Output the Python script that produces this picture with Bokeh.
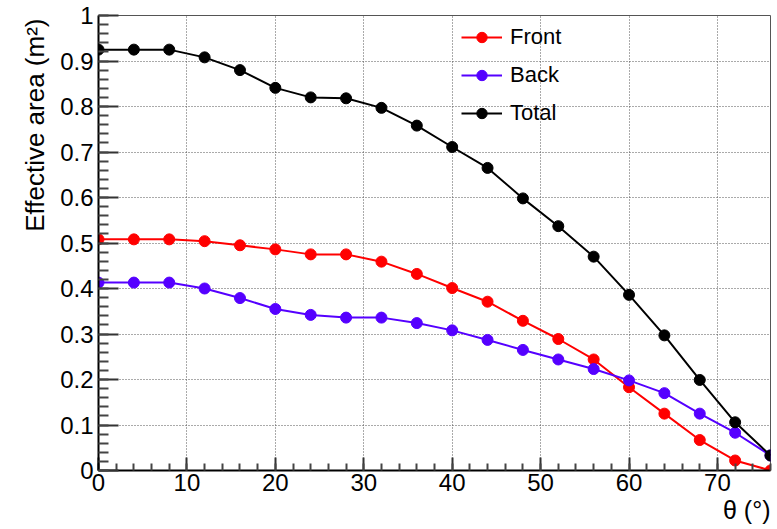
from bokeh.plotting import figure
from bokeh.models import FixedTicker, Range1d, Title
from bokeh.embed import file_html
from bokeh.resources import INLINE

# ---- data ----
theta = [0, 4, 8, 12, 16, 20, 24, 28, 32, 36, 40, 44, 48, 52, 56, 60, 64, 68, 72, 76]
front = [0.508, 0.508, 0.508, 0.504, 0.495, 0.486, 0.475, 0.475, 0.459, 0.432,
         0.401, 0.371, 0.329, 0.289, 0.244, 0.183, 0.125, 0.067, 0.022, 0.0]
back = [0.413, 0.413, 0.413, 0.400, 0.379, 0.355, 0.342, 0.336, 0.336, 0.324,
        0.308, 0.287, 0.265, 0.244, 0.223, 0.198, 0.170, 0.125, 0.083, 0.033]
total = [0.925, 0.925, 0.925, 0.908, 0.880, 0.841, 0.820, 0.818, 0.797, 0.758,
         0.711, 0.665, 0.598, 0.537, 0.470, 0.386, 0.297, 0.199, 0.106, 0.033]
series_names = ["Front", "Back", "Total"]
series_colors = ["#ff0000", "#5500ff", "#000000"]

x_ticks = [0, 10, 20, 30, 40, 50, 60, 70]
x_minor = list(range(0, 77, 2))
y_ticks = [0.0, 0.1, 0.2, 0.3, 0.4, 0.5, 0.6, 0.7, 0.8, 0.9, 1.0]
y_tick_labels = ["0", "0.1", "0.2", "0.3", "0.4", "0.5", "0.6", "0.7", "0.8", "0.9", "1"]
y_minor = [i / 50 for i in range(51)]

x_title = "θ (°)"
y_title = "Effective area (m²)"

# ---- layout ----
W, H = 777, 529
BL, BR, BT, BB = 98, 7, 15, 59
X0, X1, Y0, Y1 = 0, 76, 0, 1
FONT = "Liberation Sans"

p = figure(width=W, height=H, x_range=Range1d(X0, X1), y_range=Range1d(Y0, Y1),
           output_backend="svg", toolbar_location=None,
           min_border_left=BL, min_border_right=BR, min_border_top=BT, min_border_bottom=BB)
p.background_fill_color = "white"
p.border_fill_color = "white"
p.outline_line_color = "#555555"
p.outline_line_width = 1

for ax, ticks, minor, tin, tmin in ((p.xaxis[0], x_ticks, x_minor, 13, 7),
                                     (p.yaxis[0], y_ticks, y_minor, 20, 10)):
    ax.ticker = FixedTicker(ticks=ticks, minor_ticks=minor)
    ax.axis_line_color = "black"
    ax.axis_line_width = 2
    ax.major_tick_in = tin
    ax.major_tick_out = 0
    ax.minor_tick_in = tmin
    ax.minor_tick_out = 0
    ax.major_tick_line_color = "#333333"
    ax.major_tick_line_width = 2
    ax.minor_tick_line_color = "#444444"
    ax.minor_tick_line_width = 2
    ax.major_label_text_font = FONT
    ax.major_label_text_font_size = "24px"
    ax.major_label_text_color = "black"

p.xaxis[0].major_label_standoff = 3
p.yaxis[0].major_label_standoff = 5
p.yaxis[0].major_label_overrides = {t: s for t, s in zip(y_ticks, y_tick_labels)}

p.grid.grid_line_color = "#555555"
p.grid.grid_line_dash = "1 2"
p.grid.grid_line_width = 1

for name, vals, col in zip(series_names, (front, back, total), series_colors):
    p.line(theta, vals, line_color=col, line_width=2, legend_label=name)
    p.scatter(theta, vals, size=11, fill_color=col, line_color=col, legend_label=name)

lg = p.legend[0]
lg.location = (363, 344)
lg.background_fill_alpha = 0
lg.border_line_alpha = 0
lg.padding = 0
lg.margin = 0
lg.spacing = 12
lg.glyph_width = 41
lg.glyph_height = 26
lg.label_height = 26
lg.label_standoff = 8
lg.label_text_font = FONT
lg.label_text_font_size = "22px"
lg.label_text_color = "black"

p.add_layout(Title(text=x_title, align="right", standoff=0, text_font=FONT,
                   text_font_size="25px", text_font_style="normal",
                   text_color="black"), "below")
p.add_layout(Title(text=y_title, align="right", standoff=15, offset=3, text_font=FONT,
                   text_font_size="26px", text_font_style="normal",
                   text_color="black"), "left")

open("out.html", "w").write(file_html(p, INLINE))
